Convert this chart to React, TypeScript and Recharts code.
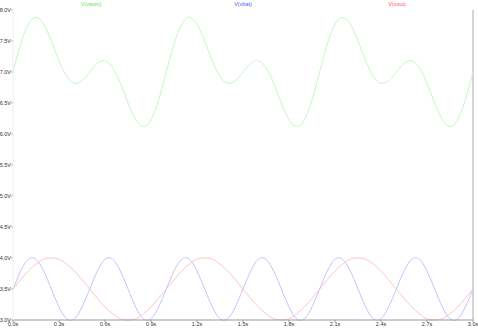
import React from "react";
import { LineChart, Line, XAxis, YAxis, ReferenceLine } from "recharts";

const times: number[] = [
  0, 0.05, 0.1, 0.15, 0.2, 0.25, 0.3, 0.35, 0.4, 0.45,
  0.5, 0.55, 0.6, 0.65, 0.7, 0.75, 0.8, 0.85, 0.9, 0.95,
  1.0, 1.05, 1.1, 1.15, 1.2, 1.25, 1.3, 1.35, 1.4, 1.45,
  1.5, 1.55, 1.6, 1.65, 1.7, 1.75, 1.8, 1.85, 1.9, 1.95,
  2.0, 2.05, 2.1, 2.15, 2.2, 2.25, 2.3, 2.35, 2.4, 2.45,
  2.5, 2.55, 2.6, 2.65, 2.7, 2.75, 2.8, 2.85, 2.9, 2.95,
  3.0,
];

const vsum: number[] = [
  7.0, 7.45, 7.77, 7.88, 7.77, 7.5, 7.18, 6.93, 6.82, 6.86,
  7.0, 7.14, 7.18, 7.07, 6.82, 6.5, 6.23, 6.12, 6.23, 6.55,
  7.0, 7.45, 7.77, 7.88, 7.77, 7.5, 7.18, 6.93, 6.82, 6.86,
  7.0, 7.14, 7.18, 7.07, 6.82, 6.5, 6.23, 6.12, 6.23, 6.55,
  7.0, 7.45, 7.77, 7.88, 7.77, 7.5, 7.18, 6.93, 6.82, 6.86,
  7.0, 7.14, 7.18, 7.07, 6.82, 6.5, 6.23, 6.12, 6.23, 6.55,
  7.0,
];

const vbat: number[] = [
  3.5, 3.79, 3.98, 3.98, 3.79, 3.5, 3.21, 3.02, 3.02, 3.21,
  3.5, 3.79, 3.98, 3.98, 3.79, 3.5, 3.21, 3.02, 3.02, 3.21,
  3.5, 3.79, 3.98, 3.98, 3.79, 3.5, 3.21, 3.02, 3.02, 3.21,
  3.5, 3.79, 3.98, 3.98, 3.79, 3.5, 3.21, 3.02, 3.02, 3.21,
  3.5, 3.79, 3.98, 3.98, 3.79, 3.5, 3.21, 3.02, 3.02, 3.21,
  3.5, 3.79, 3.98, 3.98, 3.79, 3.5, 3.21, 3.02, 3.02, 3.21,
  3.5,
];

const vout: number[] = [
  3.5, 3.65, 3.79, 3.9, 3.98, 4.0, 3.98, 3.9, 3.79, 3.65,
  3.5, 3.35, 3.21, 3.1, 3.02, 3.0, 3.02, 3.1, 3.21, 3.35,
  3.5, 3.65, 3.79, 3.9, 3.98, 4.0, 3.98, 3.9, 3.79, 3.65,
  3.5, 3.35, 3.21, 3.1, 3.02, 3.0, 3.02, 3.1, 3.21, 3.35,
  3.5, 3.65, 3.79, 3.9, 3.98, 4.0, 3.98, 3.9, 3.79, 3.65,
  3.5, 3.35, 3.21, 3.1, 3.02, 3.0, 3.02, 3.1, 3.21, 3.35,
  3.5,
];

const xTicks: number[] = [0, 0.3, 0.6, 0.9, 1.2, 1.5, 1.8, 2.1, 2.4, 2.7, 3.0];
const yTicks: number[] = [3.0, 3.5, 4.0, 4.5, 5.0, 5.5, 6.0, 6.5, 7.0, 7.5, 8.0];

const labels = [
  { text: "V(vsum)", color: "#55e055", x: 91 },
  { text: "V(vbat)", color: "#5555ff", x: 243 },
  { text: "V(vout)", color: "#ff5555", x: 397 },
];

const data = times.map((t, i) => ({ t, vsum: vsum[i], vbat: vbat[i], vout: vout[i] }));

const FONT = "'Liberation Sans', Arial, sans-serif";

export default function App() {
  return (
    <div style={{ position: "fixed", left: 0, top: 0, width: 478, height: 329, background: "#fff" }}>
      <LineChart
        width={478}
        height={329}
        data={data}
        margin={{ top: 10, right: 5, bottom: 0, left: 0 }}
      >
        <XAxis
          dataKey="t"
          type="number"
          domain={[0, 3]}
          ticks={xTicks}
          tickFormatter={(v: number) => v.toFixed(1) + "s"}
          height={9}
          tickSize={2}
          tickMargin={0}
          interval={0}
          axisLine={{ stroke: "#999" }}
          tickLine={{ stroke: "#999" }}
          tick={{ fontSize: 5.5, fill: "#333", fontFamily: FONT }}
        />
        <YAxis
          type="number"
          domain={[3, 8]}
          ticks={yTicks}
          tickFormatter={(v: number) => v.toFixed(1) + "V"}
          width={13}
          tickSize={2}
          tickMargin={0}
          interval={0}
          axisLine={{ stroke: "#eee" }}
          tickLine={{ stroke: "#bbb" }}
          tick={{ fontSize: 5.5, fill: "#333", fontFamily: FONT }}
        />
        <ReferenceLine x={3} stroke="#aaa" strokeWidth={1} />
        <Line type="natural" dataKey="vsum" stroke="#c4f8c4" strokeWidth={1} dot={false} isAnimationActive={false} />
        <Line type="natural" dataKey="vbat" stroke="#c4c4ff" strokeWidth={1} dot={false} isAnimationActive={false} />
        <Line type="natural" dataKey="vout" stroke="#ffc4c4" strokeWidth={1} dot={false} isAnimationActive={false} />
      </LineChart>
      {labels.map((l) => (
        <div
          key={l.text}
          style={{
            position: "absolute",
            left: l.x - 30,
            width: 60,
            top: 1,
            textAlign: "center",
            fontSize: 5.5,
            lineHeight: "6px",
            fontFamily: FONT,
            color: l.color,
          }}
        >
          {l.text}
        </div>
      ))}
    </div>
  );
}
